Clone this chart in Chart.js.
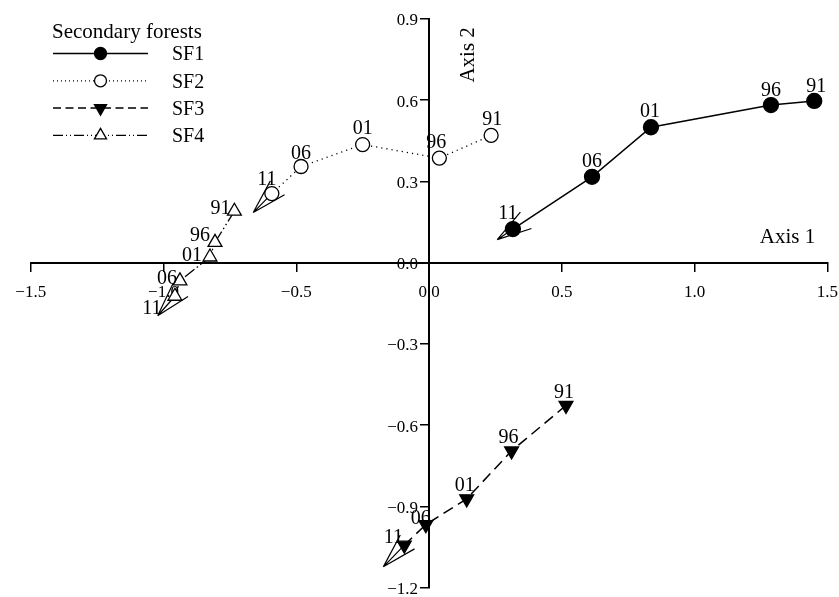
<!DOCTYPE html>
<html><head><meta charset="utf-8">
<style>html,body{margin:0;padding:0;background:#fff}canvas{display:block}</style>
<script src="https://cdn.jsdelivr.net/npm/chart.js@4/dist/chart.umd.min.js"></script>
</head><body>
<canvas id="c" width="839" height="597" style="width:839px;height:597px"></canvas>
<script>
// ---- data ----
const years = ['91','96','01','06','11'];
const seriesNames = ['SF1','SF2','SF3','SF4'];
const legendTitle = 'Secondary forests';
const sf1X = [1.451, 1.288, 0.836, 0.614, 0.316];
const sf1Y = [0.597, 0.582, 0.500, 0.317, 0.124];
const sf2X = [0.234, 0.039, -0.250, -0.482, -0.592];
const sf2Y = [0.470, 0.386, 0.436, 0.355, 0.255];
const sf3X = [0.516, 0.311, 0.142, -0.012, -0.093];
const sf3Y = [-0.527, -0.695, -0.872, -0.967, -1.043];
const sf4X = [-0.733, -0.806, -0.825, -0.938, -0.957];
const sf4Y = [0.190, 0.075, 0.021, -0.067, -0.124];
const arrowTipX = [0.257, -0.662, -0.172, -1.022];
const arrowTipY = [0.085, 0.185, -1.123, -0.196];
const xTicks = [-1.5, -1.0, -0.5, 0.0, 0.5, 1.0, 1.5];
const yTicks = [-1.2, -0.9, -0.6, -0.3, 0.0, 0.3, 0.6, 0.9];
const axisTitles = ['Axis 1', 'Axis 2'];

// ---- styling ----
const FONT = '"Liberation Serif", "Times New Roman", serif';
const labelOffsets = [
  [[2,-17],[0,-17],[-1,-18],[0,-18],[-5,-18]],
  [[1,-19],[-3,-18],[0,-19],[0,-16],[-5,-17]],
  [[-2,-16],[-3,-16],[-2,-16],[-5,-9],[-11,-10]],
  [[-14,-5],[-15,-10],[-18,-4],[-13,-5],[-23,9]]
];
const LABEL_SHIFT = 3;          // canvas 'middle' baseline vs digit centre
const Y_LABEL_GAP_PX = 11;      // tick length + padding for y tick labels
const PX_PER_X_UNIT = 265.5;
const styles = [
  {pointStyle:'circle', rotation:0, r:7.5, fill:'#000', dash:[], width:1.5, legendDash:[]},
  {pointStyle:'circle', rotation:0, r:7, fill:'#fff', dash:[1.2,4], width:1.3, legendDash:[1,3]},
  {pointStyle:'triangle', rotation:180, r:8, fill:'#000', dash:[11,6], width:1.5, legendDash:[8,4.5]},
  {pointStyle:'triangle', rotation:0, r:8, fill:'#fff', dash:[12,3,1.5,3,1.5,3], width:1.3, legendDash:[10,3,1,3,1,3]}
];
const xs = [sf1X, sf2X, sf3X, sf4X];
const ys = [sf1Y, sf2Y, sf3Y, sf4Y];

const datasets = seriesNames.map((name, i) => ({
  label: name,
  data: xs[i].map((x, k) => ({x: x, y: ys[i][k]})),
  xAxisID: 'x',
  yAxisID: 'y',
  showLine: true,
  borderColor: '#000',
  borderWidth: styles[i].width,
  borderDash: styles[i].dash,
  backgroundColor: styles[i].fill,
  pointStyle: styles[i].pointStyle,
  rotation: styles[i].rotation,
  pointRadius: styles[i].r,
  pointBorderWidth: 1.3,
  pointBorderColor: '#000',
  pointBackgroundColor: styles[i].fill,
  tension: 0
}));

const fmt = v => (v < 0 ? '\u2212' : '') + Math.abs(v).toFixed(1);

function drawMarker(ctx, st, x, y, r) {
  ctx.save();
  ctx.setLineDash([]);
  ctx.lineWidth = 1.3;
  ctx.strokeStyle = '#000';
  ctx.fillStyle = st.fill;
  ctx.beginPath();
  if (st.pointStyle === 'circle') {
    ctx.arc(x, y, r, 0, Math.PI * 2);
  } else {
    const rot = st.rotation * Math.PI / 180;
    for (let k = 0; k < 3; k++) {
      const a = rot + k * 2 * Math.PI / 3;
      const px = x + Math.sin(a) * r, py = y - Math.cos(a) * r;
      if (k === 0) ctx.moveTo(px, py); else ctx.lineTo(px, py);
    }
    ctx.closePath();
  }
  ctx.fill();
  ctx.stroke();
  ctx.restore();
}

const arrowPlugin = {
  id: 'arrows',
  beforeDatasetsDraw(chart) {
    const ctx = chart.ctx, sx = chart.scales.x, sy = chart.scales.y;
    ctx.save();
    ctx.strokeStyle = '#000';
    ctx.lineWidth = 1.2;
    ctx.setLineDash([]);
    chart.data.datasets.forEach((ds, i) => {
      const meta = chart.getDatasetMeta(i);
      const last = meta.data[meta.data.length - 1];
      const tx = sx.getPixelForValue(arrowTipX[i]), ty = sy.getPixelForValue(arrowTipY[i]);
      const ang = Math.atan2(last.y - ty, last.x - tx);
      const L = 36, spread = 16 * Math.PI / 180;
      ctx.beginPath();
      ctx.moveTo(last.x, last.y); ctx.lineTo(tx, ty);
      ctx.moveTo(tx, ty); ctx.lineTo(tx + L * Math.cos(ang - spread), ty + L * Math.sin(ang - spread));
      ctx.moveTo(tx, ty); ctx.lineTo(tx + L * Math.cos(ang + spread), ty + L * Math.sin(ang + spread));
      ctx.stroke();
    });
    ctx.restore();
  }
};

const textPlugin = {
  id: 'texts',
  afterDatasetsDraw(chart) {
    const ctx = chart.ctx, ca = chart.chartArea;
    ctx.save();
    ctx.fillStyle = '#000';
    // point labels
    ctx.font = '20px ' + FONT;
    ctx.textAlign = 'center';
    ctx.textBaseline = 'middle';
    chart.data.datasets.forEach((ds, i) => {
      const meta = chart.getDatasetMeta(i);
      meta.data.forEach((pt, k) => {
        const o = labelOffsets[i][k];
        ctx.fillText(years[k], pt.x + o[0], pt.y + o[1] + LABEL_SHIFT);
      });
    });
    // axis titles
    ctx.font = '21px ' + FONT;
    ctx.textAlign = 'right';
    ctx.fillText(axisTitles[0], ca.right - 12, chart.scales.y.getPixelForValue(0) - 25);
    ctx.save();
    ctx.translate(chart.scales.x.getPixelForValue(0) + 39, ca.top + 36);
    ctx.rotate(-Math.PI / 2);
    ctx.textAlign = 'center';
    ctx.fillText(axisTitles[1], 0, 0);
    ctx.restore();
    // legend
    ctx.textAlign = 'left';
    ctx.font = '21px ' + FONT;
    ctx.fillText(legendTitle, 52, 32);
    ctx.font = '20px ' + FONT;
    seriesNames.forEach((name, i) => {
      const y = 53.5 + i * 27.3;
      const st = styles[i];
      ctx.save();
      ctx.strokeStyle = '#000';
      ctx.lineWidth = st.width;
      ctx.setLineDash(st.legendDash);
      ctx.beginPath();
      ctx.moveTo(53, y); ctx.lineTo(148, y);
      ctx.stroke();
      ctx.restore();
      drawMarker(ctx, st, 100.5, y, st.pointStyle === 'circle' ? 6 : 7);
      ctx.fillText(name, 172, y + 1.5);
    });
    ctx.restore();
  }
};

const tickFont = { family: FONT, size: 17 };
function noSpace(s, horizontal) {
  if (horizontal) s.height = 0; else s.width = 0;
  s.paddingLeft = 0; s.paddingRight = 0; s.paddingTop = 0; s.paddingBottom = 0;
}

new Chart(document.getElementById('c'), {
  type: 'scatter',
  data: { datasets: datasets },
  options: {
    responsive: false,
    devicePixelRatio: 1,
    animation: false,
    layout: { padding: { left: 30.75, right: 11.75, top: 18.9, bottom: 4.4 } },
    plugins: { legend: { display: false }, tooltip: { enabled: false } },
    scales: {
      x: {
        type: 'linear', min: -1.5, max: 1.5,
        position: { y: 0 },
        afterFit(s) { noSpace(s, true); },
        afterBuildTicks(s) { s.ticks = xTicks.map(v => ({ value: v })); },
        ticks: { callback: fmt, color: '#000', font: tickFont, padding: 12, autoSkip: false, maxRotation: 0 },
        grid: { drawOnChartArea: false, drawTicks: true, tickLength: 8, color: '#000', lineWidth: 1.5 },
        border: { display: true, color: '#000', width: 2 }
      },
      y: {
        type: 'linear', min: -1.2, max: 0.9,
        position: { x: 0 },
        afterFit(s) { noSpace(s, false); },
        afterBuildTicks(s) { s.ticks = yTicks.map(v => ({ value: v })); },
        ticks: { display: false },
        grid: { drawOnChartArea: false, drawTicks: true, tickLength: 8, color: '#000', lineWidth: 1.5 },
        border: { display: true, color: '#000', width: 2 }
      },
      yLabels: {
        type: 'linear', axis: 'y', min: -1.2, max: 0.9,
        position: { x: -Y_LABEL_GAP_PX / PX_PER_X_UNIT },
        afterFit(s) { noSpace(s, false); },
        afterBuildTicks(s) { s.ticks = yTicks.map(v => ({ value: v })); },
        ticks: { callback: fmt, color: '#000', font: tickFont, padding: 0, labelOffset: 2, autoSkip: false },
        grid: { display: false, drawTicks: false },
        border: { display: false }
      }
    }
  },
  plugins: [arrowPlugin, textPlugin]
});
</script>
</body></html>
